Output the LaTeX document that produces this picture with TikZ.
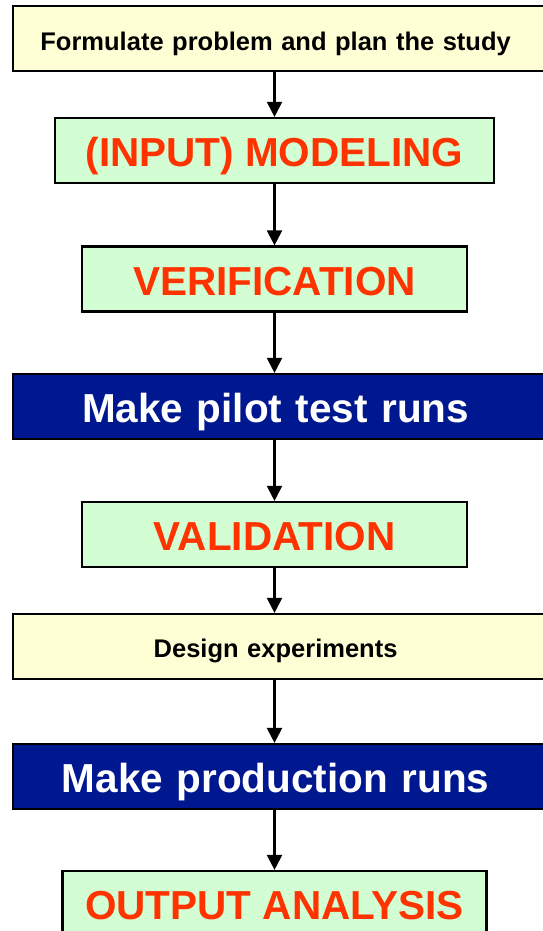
\documentclass[tikz,border=0pt]{standalone}
\usepackage{fontspec}
\setmainfont{Liberation Sans}
\usetikzlibrary{arrows.meta}
\definecolor{paleyellow}{HTML}{FFFFD6}
\definecolor{palegreen}{HTML}{D3FDD3}
\definecolor{deepblue}{HTML}{00188F}
\definecolor{flamered}{HTML}{FF3300}
\begin{document}
\begin{tikzpicture}[x=1pt,y=-1pt,
  box/.style={draw=black, line width=2.2pt, inner sep=0pt, text depth=0pt},
  widebox/.style={box, anchor=west, minimum width=560pt, minimum height=65pt,
    text width=560pt, align=left},
  smalltext/.style={font=\bfseries\fontsize{25.5}{30}\selectfont, text height=18.3pt},
  bigtext/.style={font=\bfseries\fontsize{40.5}{48}\selectfont, text height=29pt},
  stagebox/.style={box, fill=palegreen, text=flamered, bigtext, minimum height=65pt},
  plainbox/.style={widebox, fill=paleyellow, text=black, smalltext},
  runbox/.style={widebox, fill=deepblue, text=white, bigtext},
  arr/.style={line width=2.2pt, -{Triangle[width=15pt,length=15pt]}}
]
\useasboundingbox (0,0) rectangle (543,931);
\clip (0,0) rectangle (543,931);

% capitals sit a little below the middle of each box
\node[plainbox] (formulate) at (12,38.5) {\raisebox{-3pt}{\makebox[525pt][c]{Formulate problem and plan the study}}};
\node[stagebox, minimum width=439.5pt] (modeling) at (274.5,150.5) {\raisebox{-1.5pt}{(INPUT) MODELING}};
\node[stagebox, minimum width=385pt] (verification) at (274.5,279) {\raisebox{-1.5pt}{VERIFICATION}};
\node[runbox] (pilot) at (12,406.5) {\raisebox{-1.5pt}{\makebox[525pt][c]{Make pilot test runs}}};
\node[stagebox, minimum width=385pt] (validation) at (274.5,534.5) {\raisebox{-1.5pt}{VALIDATION}};
\node[plainbox] (design) at (12,646.5) {\raisebox{-2pt}{\makebox[525pt][c]{Design experiments}}};
\node[runbox] (production) at (12,776.5) {\raisebox{-1.5pt}{\makebox[525pt][c]{Make production runs}}};
\node[stagebox, minimum width=424pt] (output) at (274.5,903.5) {\raisebox{-1.5pt}{OUTPUT ANALYSIS}};

\coordinate (axis) at (274.5,0);
\draw[arr] (formulate.south -| axis) -- (modeling.north -| axis);
\draw[arr] (modeling.south -| axis) -- (verification.north -| axis);
\draw[arr] (verification.south -| axis) -- (pilot.north -| axis);
\draw[arr] (pilot.south -| axis) -- (validation.north -| axis);
\draw[arr] (validation.south -| axis) -- (design.north -| axis);
\draw[arr] (design.south -| axis) -- (production.north -| axis);
\draw[arr] (production.south -| axis) -- (output.north -| axis);
\end{tikzpicture}
\end{document}
